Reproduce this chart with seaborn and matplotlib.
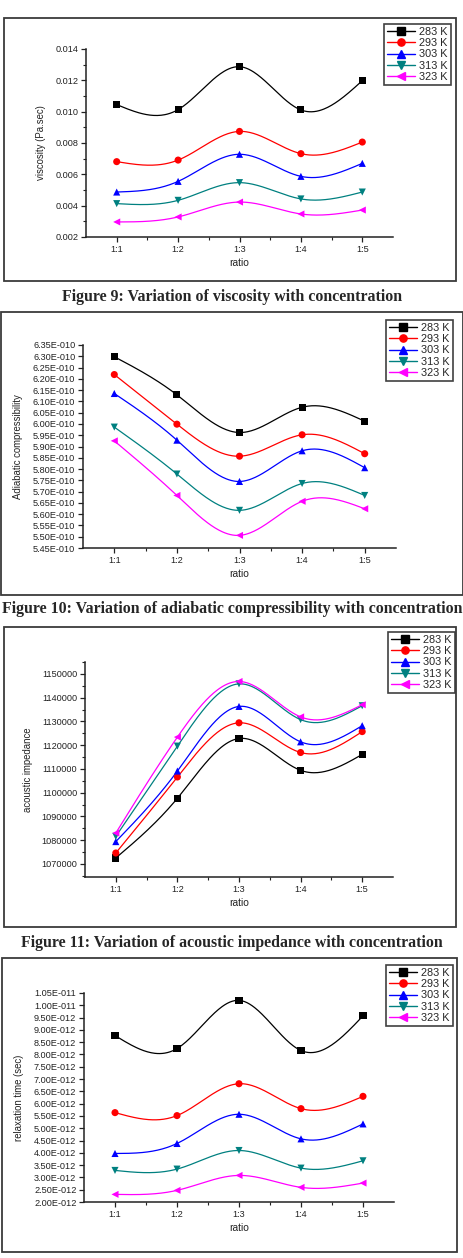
import numpy as np
import pandas as pd
import matplotlib
matplotlib.use("Agg")
import matplotlib.pyplot as plt
from matplotlib.lines import Line2D
from matplotlib.patches import Rectangle
from matplotlib.ticker import MultipleLocator, FuncFormatter, FixedLocator
import seaborn as sns

# ---------------- data ----------------
ratios = ["1:1", "1:2", "1:3", "1:4", "1:5"]
temps = ["283 K", "293 K", "303 K", "313 K", "323 K"]
colors = ["#000000", "#FF0000", "#0000FF", "#008080", "#FF00FF"]
markers = ["s", "o", "^", "v", "<"]

visc_283 = [0.01045, 0.01013, 0.01287, 0.01011, 0.01198]
visc_293 = [0.00681, 0.00691, 0.00874, 0.00732, 0.00806]
visc_303 = [0.00487, 0.00555, 0.00728, 0.00587, 0.00670]
visc_313 = [0.00413, 0.00434, 0.00547, 0.00443, 0.00487]
visc_323 = [0.00296, 0.00328, 0.00423, 0.00347, 0.00372]

comp_283 = [6.298e-10, 6.129e-10, 5.962e-10, 6.074e-10, 6.012e-10]
comp_293 = [6.219e-10, 5.999e-10, 5.857e-10, 5.952e-10, 5.868e-10]
comp_303 = [6.135e-10, 5.928e-10, 5.745e-10, 5.881e-10, 5.806e-10]
comp_313 = [5.986e-10, 5.778e-10, 5.617e-10, 5.736e-10, 5.683e-10]
comp_323 = [5.925e-10, 5.683e-10, 5.506e-10, 5.657e-10, 5.624e-10]

imp_283 = [1072500, 1097650, 1122800, 1109400, 1116100]
imp_293 = [1074600, 1106600, 1129400, 1116900, 1125700]
imp_303 = [1079400, 1109100, 1136300, 1121400, 1128200]
imp_313 = [1081600, 1119600, 1145800, 1130750, 1136600]
imp_323 = [1083000, 1123400, 1146800, 1131900, 1137000]

relax_283 = [8.77e-12, 8.24e-12, 10.20e-12, 8.16e-12, 9.57e-12]
relax_293 = [5.635e-12, 5.514e-12, 6.81e-12, 5.797e-12, 6.297e-12]
relax_303 = [3.973e-12, 4.38e-12, 5.568e-12, 4.568e-12, 5.176e-12]
relax_313 = [3.284e-12, 3.338e-12, 4.095e-12, 3.378e-12, 3.676e-12]
relax_323 = [2.31e-12, 2.473e-12, 3.081e-12, 2.595e-12, 2.77e-12]

captions = [
    "Figure 9: Variation of viscosity with concentration",
    "Figure 10: Variation of adiabatic compressibility with concentration",
    "Figure 11: Variation of acoustic impedance with concentration",
]

# ---------------- helpers ----------------
def natural_spline(x, y, xs):
    x = np.asarray(x, float); y = np.asarray(y, float)
    n = len(x); h = np.diff(x)
    A = np.zeros((n, n)); r = np.zeros(n)
    A[0, 0] = A[-1, -1] = 1.0
    for i in range(1, n - 1):
        A[i, i - 1] = h[i - 1]; A[i, i] = 2 * (h[i - 1] + h[i]); A[i, i + 1] = h[i]
        r[i] = 3 * ((y[i + 1] - y[i]) / h[i] - (y[i] - y[i - 1]) / h[i - 1])
    c = np.linalg.solve(A, r)
    b = (y[1:] - y[:-1]) / h - h * (2 * c[:-1] + c[1:]) / 3
    d = (c[1:] - c[:-1]) / (3 * h)
    idx = np.clip(np.searchsorted(x, xs) - 1, 0, n - 2)
    t = xs - x[idx]
    return y[idx] + b[idx] * t + c[idx] * t ** 2 + d[idx] * t ** 3

def sci_fmt(v, pos=None):
    if v == 0:
        return "0"
    e = int(np.floor(np.log10(abs(v)) + 1e-9))
    m = v / 10 ** e
    return f"{m:.2f}E{e:+04d}"

W, H = 464, 1258
sns.set_theme(style="ticks")
plt.rcParams["font.family"] = ["Liberation Sans", "DejaVu Sans"]

fig = plt.figure(figsize=(W / 100, H / 100), dpi=100)
fig.patch.set_facecolor("white")

def px_axes(x0, y0, x1, y1):
    return fig.add_axes([x0 / W, 1 - y1 / H, (x1 - x0) / W, (y1 - y0) / H])

def box(x0, y0, x1, y1):
    fig.patches.append(Rectangle((x0 / W, 1 - y1 / H), (x1 - x0) / W, (y1 - y0) / H,
                                 transform=fig.transFigure, fill=False,
                                 edgecolor="#3a3a3a", linewidth=1.3, zorder=0))

panels = [
    dict(series=[visc_283, visc_293, visc_303, visc_313, visc_323],
         boxpx=(4, 18, 456, 281), axpx=(86, 49, 393, 237), legpx=(384, 24),
         ylim=(0.002, 0.014), major=0.002, minor=0.001, fmt=lambda v, p: f"{v:.3f}",
         ylabel="viscosity (Pa.sec)", ylabx=46.5),
    dict(series=[comp_283, comp_293, comp_303, comp_313, comp_323],
         boxpx=(1, 312, 463, 595), axpx=(83, 345, 396, 548), legpx=(386, 320),
         ylim=(5.45e-10, 6.35e-10), major=0.05e-10, minor=None, fmt=sci_fmt,
         ylabel="Adiabatic compressibility", ylabx=22.5),
    dict(series=[imp_283, imp_293, imp_303, imp_313, imp_323],
         boxpx=(4, 627, 456, 927), axpx=(85, 662, 393, 877), legpx=(388, 632),
         ylim=(1064500, 1155000), major=10000, minor=5000, fmt=lambda v, p: f"{v:.0f}",
         ylabel="acoustic impedance", ylabx=33.5),
    dict(series=[relax_283, relax_293, relax_303, relax_313, relax_323],
         boxpx=(2, 958, 457, 1252), axpx=(84, 993, 394, 1202), legpx=(386, 965),
         ylim=(2.0e-12, 10.5e-12), major=0.5e-12, minor=None, fmt=sci_fmt,
         ylabel="relaxation time (sec)", ylabx=24.5),
]

xpos = np.arange(1, len(ratios) + 1)
xs = np.linspace(1, len(ratios), 200)

for p in panels:
    box(*p["boxpx"])
    ax = px_axes(*p["axpx"])
    ax.set_facecolor("none")
    curve_rows, pt_rows = [], []
    for t, vals in zip(temps, p["series"]):
        ys = natural_spline(xpos, vals, xs)
        curve_rows.append(pd.DataFrame({"x": xs, "y": ys, "T": t}))
        pt_rows.append(pd.DataFrame({"x": xpos, "y": vals, "T": t}))
    dfc = pd.concat(curve_rows); dfp = pd.concat(pt_rows)
    pal = dict(zip(temps, colors))
    sns.lineplot(data=dfc, x="x", y="y", hue="T", palette=pal, linewidth=0.9,
                 legend=False, ax=ax, estimator=None, sort=False)
    sns.scatterplot(data=dfp, x="x", y="y", hue="T", style="T",
                    markers=dict(zip(temps, markers)), palette=pal, s=26,
                    linewidth=0, legend=False, ax=ax, zorder=3)
    ax.set_xlim(0.5, 5.5)
    ax.xaxis.set_major_locator(FixedLocator(xpos))
    ax.set_xticklabels(ratios)
    ax.xaxis.set_minor_locator(FixedLocator(xpos[:-1] + 0.5))
    ax.yaxis.set_major_locator(MultipleLocator(p["major"]))
    if p["minor"]:
        ax.yaxis.set_minor_locator(MultipleLocator(p["minor"]))
    ax.yaxis.set_major_formatter(FuncFormatter(p["fmt"]))
    ax.set_ylim(*p["ylim"])
    sns.despine(ax=ax)
    for s in ("left", "bottom"):
        ax.spines[s].set_linewidth(1.1)
        ax.spines[s].set_color("#222222")
    ax.tick_params(axis="both", which="major", direction="out", length=3.5, width=0.9,
                   labelsize=6.6, pad=2, color="#222222", labelcolor="#222222")
    ax.tick_params(axis="both", which="minor", direction="out", length=2, width=0.8,
                   color="#222222")
    ax.set_xlabel("ratio", fontsize=7.4, color="#222222", labelpad=3)
    ax.set_ylabel(p["ylabel"], fontsize=6.9, color="#222222")
    x0, y0, x1, y1 = p["axpx"]
    ax.yaxis.set_label_coords((p["ylabx"] - x0) / (x1 - x0), 0.5)

    handles = [Line2D([0], [0], color=c, marker=m, markersize=5.2, linewidth=1.0)
               for c, m in zip(colors, markers)]
    lx, ly = p["legpx"]
    leg = ax.legend(handles, temps, loc="upper left",
                    bbox_to_anchor=(lx / W, 1 - ly / H), bbox_transform=fig.transFigure,
                    fontsize=7.8, frameon=True, fancybox=False, borderpad=0.25,
                    labelspacing=0.12, handlelength=2.6, handletextpad=0.4,
                    borderaxespad=0)
    leg.get_frame().set_edgecolor("#111111")
    leg.get_frame().set_linewidth(1.2)

cap_y = [297, 609, 943]
for cy, txt in zip(cap_y, captions):
    fig.text(0.5, 1 - cy / H, txt, ha="center", va="center", fontsize=11.4,
             fontweight="bold", family=["Liberation Serif", "DejaVu Serif"])

fig.savefig("out.png", dpi=100)
